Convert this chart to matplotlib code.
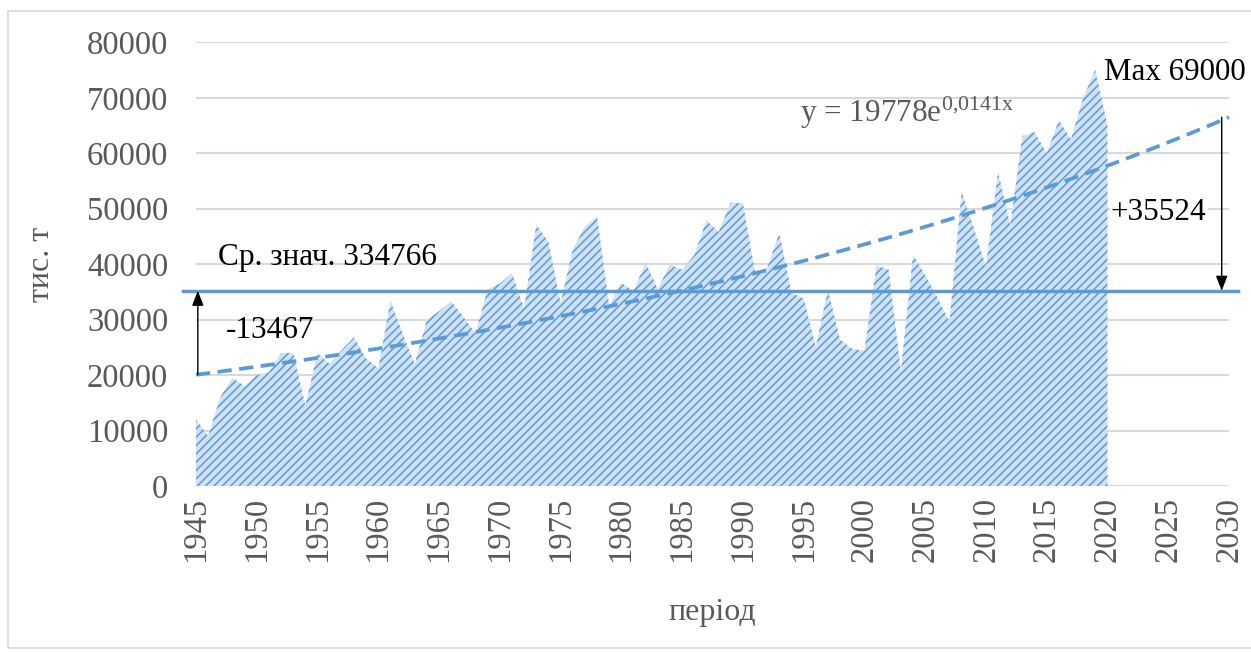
import matplotlib
matplotlib.use("Agg")
import matplotlib.pyplot as plt
import numpy as np

years = list(range(1945, 2021))
values = [12000, 9000, 16000, 19500, 18000, 20000, 20500, 24000, 24000, 14500,
          24000, 22000, 24500, 26800, 23000, 21200, 33400, 27500, 22000, 30000,
          31500, 33300, 30500, 27500, 35500, 36500, 38400, 32000, 47100, 44000,
          33000, 42600, 46800, 48600, 32500, 36600, 35200, 40200, 35500, 39900,
          39000, 41600, 47900, 45800, 51100, 51000, 38500, 39300, 45600, 34800,
          33800, 25100, 35400, 26400, 24700, 24400, 39700, 39000, 20600, 41700,
          38000, 34000, 29600, 53100, 46500, 39600, 56600, 47000, 63100, 63800,
          60000, 65900, 62500, 70000, 75000, 65000]
mean_value = 35200
trend_a = 19778
trend_b = 0.0141
trend_years = list(range(1945, 2031))
x_ticks = list(range(1945, 2031, 5))
y_ticks = list(range(0, 80001, 10000))

plt.rcParams['font.family'] = ['Liberation Serif', 'DejaVu Serif']
plt.rcParams['mathtext.fontset'] = 'custom'
plt.rcParams['mathtext.rm'] = 'Liberation Serif'
plt.rcParams['mathtext.it'] = 'Liberation Serif:italic'
plt.rcParams['mathtext.bf'] = 'Liberation Serif:bold'
plt.rcParams['hatch.linewidth'] = 1.1
plt.rcParams['hatch.color'] = '#5B9BD5'

W, H = 1251, 652
fig = plt.figure(figsize=(W / 100, H / 100), dpi=100)
ax = fig.add_axes([196 / W, 166 / H, (1229 - 196) / W, (609.7 - 166) / H])

# figure border
fig.patches.append(plt.Rectangle((8 / W, 4 / H), 1.2, (641 - 4) / H, transform=fig.transFigure,
                                 fill=False, edgecolor='#D9D9D9', linewidth=1.2))

ax.set_xlim(1945, 2030)
ax.set_ylim(0, 80000)
ax.set_yticks(y_ticks)
ax.set_xticks(x_ticks)
ax.set_xticklabels([str(t) for t in x_ticks], rotation=90)
ax.tick_params(axis='both', length=0, labelsize=23.5, labelcolor='#595959')
ax.tick_params(axis='y', pad=20)
ax.tick_params(axis='x', pad=8)
for s in ax.spines.values():
    s.set_visible(False)
ax.grid(axis='y', color='#D9D9D9', linewidth=1.5)
ax.set_axisbelow(True)

ax.fill_between(years, values, 0, facecolor='#CFE1F3', edgecolor='#5B9BD5',
                hatch='////', linewidth=0, zorder=2)

ty = [trend_a * np.exp(trend_b * (y - 1944)) for y in trend_years]
ax.plot(trend_years, ty, color='#5B9BD5', linewidth=2.7, linestyle=(0, (3.8, 2)), zorder=3,
        clip_on=False)

ax.plot([1943.9, 2030.75], [mean_value, mean_value], color='#5B9BD5', linewidth=2.5,
        zorder=4, clip_on=False)

# arrows
ax.annotate('', xy=(1945.15, mean_value), xytext=(1945.15, ty[0]),
            arrowprops=dict(arrowstyle='-|>,head_width=0.35,head_length=0.9', color='black',
                            lw=1.0, shrinkA=0, shrinkB=0), zorder=5)
ax.annotate('', xy=(2029.4, mean_value), xytext=(2029.4, ty[-1]),
            arrowprops=dict(arrowstyle='-|>,head_width=0.35,head_length=0.9', color='black',
                            lw=1.0, shrinkA=0, shrinkB=0), zorder=5)

def px2data(px, py):
    x = 1945 + (px - 196) / ((1229 - 196) / 85)
    y = (486 - py) / 443.7 * 80000
    return x, y

tx, tyv = px2data(218, 258)
ax.text(tx, tyv, 'Ср. знач. 334766', fontsize=22.5, color='black', va='center', ha='left',
        zorder=6)
tx, tyv = px2data(226, 330)
ax.text(tx, tyv, '-13467', fontsize=22.5, color='black', va='center', ha='left', zorder=6)
tx, tyv = px2data(1111, 212)
ax.text(tx, tyv, '+35524', fontsize=22.5, color='black', va='center', ha='left', zorder=6,
        bbox=dict(facecolor='white', edgecolor='none', pad=1))
tx, tyv = px2data(1104, 73)
ax.text(tx, tyv, 'Max 69000', fontsize=22.3, color='black', va='center', ha='left', zorder=6,
        clip_on=False)
tx, tyv = px2data(800, 113)
ax.text(tx, tyv, r'y = 19778e$^{\mathrm{0{,}0141x}}$', fontsize=22.5, color='#595959',
        va='center', ha='left', zorder=6)

ax.set_ylabel('тис. т', fontsize=23, color='#595959', labelpad=22)
ax.set_xlabel('період', fontsize=23, color='#595959', labelpad=26)

fig.savefig('out.png', dpi=100)
